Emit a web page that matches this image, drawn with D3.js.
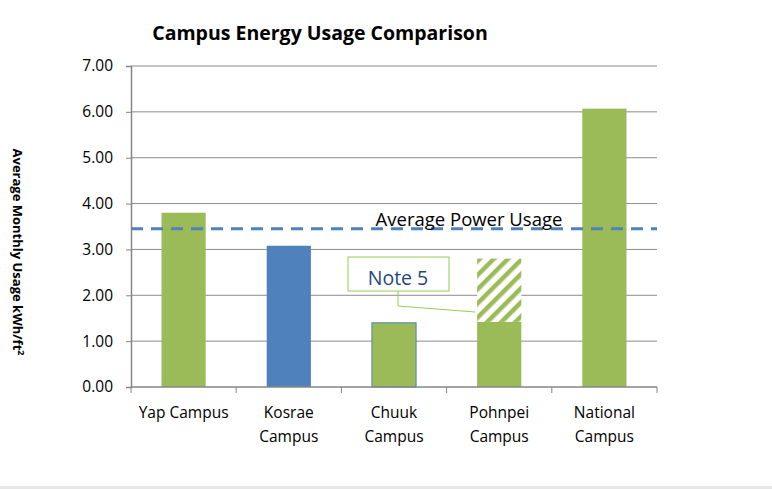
<!DOCTYPE html>
<html>
<head>
<meta charset="utf-8">
<script src="https://cdn.jsdelivr.net/npm/d3@7"></script>
<style>
  body { margin: 0; background: #fff; }
  svg { display: block; font-family: "Open Sans", sans-serif; }
</style>
</head>
<body>
<svg id="chart"></svg>
<script>
// chart data
const campuses = ["Yap Campus", "Kosrae Campus", "Chuuk Campus", "Pohnpei Campus", "National Campus"]
const labelLines = [["Yap Campus"], ["Kosrae", "Campus"], ["Chuuk", "Campus"], ["Pohnpei", "Campus"], ["National", "Campus"]]
const usage = [3.80, 3.08, 1.40, 1.42, 6.07]
const barColors = ["#9BBB59", "#4F81BD", "#9BBB59", "#9BBB59", "#9BBB59"]
const extraPohnpei = 2.80   // hatched part top
const averageUsage = 3.45
const yTicks = [0, 1, 2, 3, 4, 5, 6, 7]

const width = 772, height = 489
const margin = {top: 66, right: 115, bottom: 102, left: 131}
const font = "'Open Sans', sans-serif"

const svg = d3.select("#chart").attr("width", width).attr("height", height)

// hatch pattern
const defs = svg.append("defs")
const pat = defs.append("pattern")
    .attr("id", "hatch")
    .attr("patternUnits", "userSpaceOnUse")
    .attr("width", 10).attr("height", 10)
    .attr("patternTransform", "rotate(45)")
pat.append("rect").attr("width", 10).attr("height", 10).attr("fill", "#fff")
pat.append("rect").attr("width", 4.5).attr("height", 10).attr("fill", "#9BBB59")

const x = d3.scaleBand()
    .domain(campuses)
    .range([margin.left, width - margin.right])
    .paddingInner(0.58).paddingOuter(0.29)

const y = d3.scaleLinear()
    .domain([0, 7])
    .range([height - margin.bottom, margin.top])

// gridlines
svg.append("g")
    .selectAll("line")
    .data(yTicks.slice(1))
    .enter().append("line")
      .attr("x1", margin.left).attr("x2", width - margin.right)
      .attr("y1", d => y(d)).attr("y2", d => y(d))
      .attr("stroke", "#8c8c8c").attr("stroke-width", 1)

// y axis
const yAxis = svg.append("g")
    .attr("transform", "translate(" + margin.left + ",0)")
    .call(d3.axisLeft(y).tickValues(yTicks).tickFormat(d3.format(".2f")).tickSize(5).tickPadding(13))
yAxis.select(".domain").attr("stroke", "#868686").attr("stroke-width", 1.5)
yAxis.selectAll(".tick line").attr("stroke", "#868686")
yAxis.selectAll("text").attr("font-size", 15.5).attr("font-family", font).attr("fill", "#000")

// bars
svg.append("g")
    .selectAll("rect")
    .data(campuses)
    .enter().append("rect")
      .attr("x", d => x(d))
      .attr("width", x.bandwidth())
      .attr("y", (d, i) => y(usage[i]))
      .attr("height", (d, i) => y(0) - y(usage[i]))
      .attr("fill", (d, i) => barColors[i])
      .attr("stroke", (d, i) => i === 2 ? "#4F81BD" : "none")
      .attr("stroke-width", 1)

// hatched part for Pohnpei
svg.append("rect")
    .attr("x", x("Pohnpei Campus"))
    .attr("width", x.bandwidth())
    .attr("y", y(extraPohnpei))
    .attr("height", y(usage[3]) - y(extraPohnpei))
    .attr("fill", "url(#hatch)")

// x axis
const xAxisG = svg.append("g").attr("transform", "translate(0," + y(0) + ")")
xAxisG.append("line")
    .attr("x1", margin.left).attr("x2", width - margin.right)
    .attr("stroke", "#868686").attr("stroke-width", 1.5)
const step = x.step()
const bounds = d3.range(campuses.length + 1).map(i => margin.left + i * step)
xAxisG.selectAll(".xt")
    .data(bounds)
    .enter().append("line")
      .attr("x1", d => d).attr("x2", d => d)
      .attr("y1", 0).attr("y2", 6)
      .attr("stroke", "#868686")

const catLabels = xAxisG.selectAll(".cat")
    .data(campuses)
    .enter().append("text")
      .attr("x", d => x(d) + x.bandwidth() / 2)
      .attr("y", 31)
      .attr("text-anchor", "middle")
      .attr("font-size", 15.5)
      .attr("fill", "#000")
catLabels.each(function(d, i) {
    d3.select(this).selectAll("tspan")
      .data(labelLines[i])
      .enter().append("tspan")
        .attr("x", x(d) + x.bandwidth() / 2)
        .attr("dy", (t, j) => j === 0 ? 0 : 24)
        .text(t => t)
})

// average line
svg.append("line")
    .attr("x1", margin.left).attr("x2", width - margin.right)
    .attr("y1", y(averageUsage)).attr("y2", y(averageUsage))
    .attr("stroke", "#4F81BD").attr("stroke-width", 3)
    .attr("stroke-dasharray", "12,8")
svg.append("text")
    .attr("x", 469).attr("y", 226)
    .attr("text-anchor", "middle")
    .attr("font-size", 18.5)
    .attr("fill", "#000")
    .text("Average Power Usage")

// note callout
const noteG = svg.append("g")
noteG.append("polyline")
    .attr("points", [[398, 291], [398, 306], [x("Pohnpei Campus") - 2, 312]].map(p => p.join(",")).join(" "))
    .attr("fill", "none").attr("stroke", "#92D050").attr("stroke-width", 1)
noteG.append("rect")
    .attr("x", 348).attr("y", 257).attr("width", 101).attr("height", 34)
    .attr("fill", "#fff").attr("stroke", "#92D050").attr("stroke-width", 1)
noteG.append("text")
    .attr("x", 398).attr("y", 285)
    .attr("text-anchor", "middle")
    .attr("font-size", 19.5)
    .attr("fill", "#1F497D")
    .text("Note 5")

// title
svg.append("text")
    .attr("x", 320).attr("y", 40)
    .attr("text-anchor", "middle")
    .attr("font-size", 19.5).attr("font-weight", "bold")
    .attr("fill", "#000")
    .text("Campus Energy Usage Comparison")

// y axis title
svg.append("text")
    .attr("transform", "translate(13,252) rotate(90)")
    .attr("text-anchor", "middle")
    .attr("font-size", 13).attr("font-weight", "bold")
    .attr("fill", "#000")
    .html("Average Monthly Usage kWh/ft<tspan dy='-5' font-size='9'>2</tspan>")

// bottom border strip
svg.append("rect")
    .attr("x", 0).attr("y", height - 3).attr("width", width).attr("height", 3)
    .attr("fill", "#e6e6e6")
</script>
</body>
</html>
